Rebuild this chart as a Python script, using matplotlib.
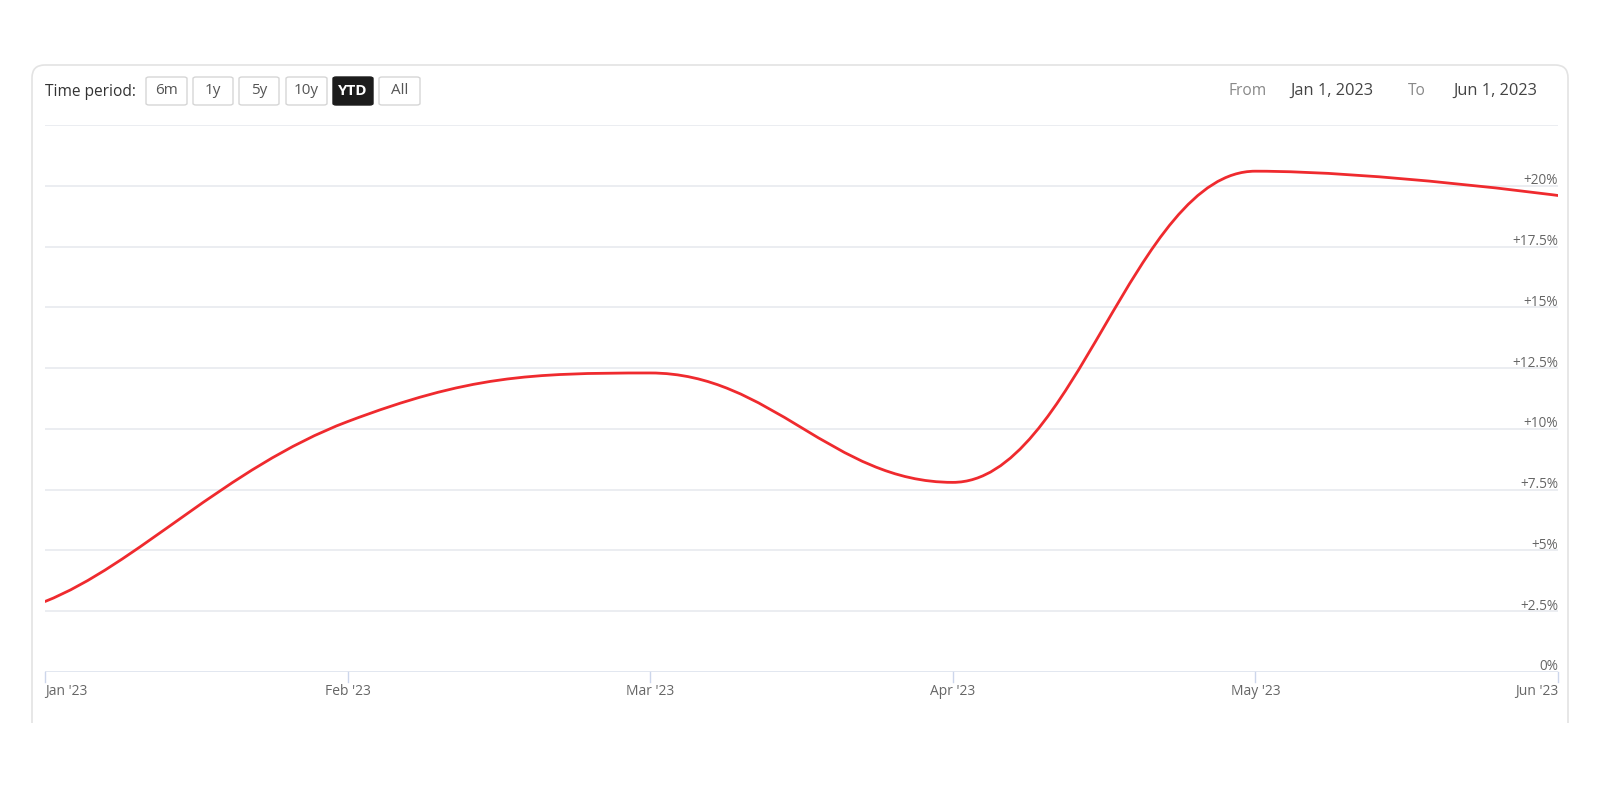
import matplotlib
matplotlib.use("Agg")
import matplotlib.pyplot as plt
from matplotlib.path import Path
from matplotlib.patches import PathPatch, FancyBboxPatch, Rectangle

plt.rcParams['font.family'] = ['Open Sans', 'DejaVu Sans']

# data (YTD return in %)
months = ["Jan '23", "Feb '23", "Mar '23", "Apr '23", "May '23", "Jun '23"]
returns = [2.9, 10.3, 12.3, 7.8, 20.6, 19.6]
y_ticks = [0, 2.5, 5, 7.5, 10, 12.5, 15, 17.5, 20, 22.5]
periods = ["6m", "1y", "5y", "10y", "YTD", "All"]
active_period = "YTD"
date_from = "Jan 1, 2023"
date_to = "Jun 1, 2023"

W, H = 1600, 800


def fx(x):
    return x / W


def fy(y):
    return 1 - y / H


def spline_path(xs, ys, smoothing=1.5):
    # highcharts style spline: bezier control points per point
    denom = smoothing + 1
    n = len(xs)
    left = [None] * n
    right = [None] * n
    for i in range(1, n - 1):
        x, y = xs[i], ys[i]
        lx, ly = xs[i - 1], ys[i - 1]
        nx, ny = xs[i + 1], ys[i + 1]
        lcx = (smoothing * x + lx) / denom
        lcy = (smoothing * y + ly) / denom
        rcx = (smoothing * x + nx) / denom
        rcy = (smoothing * y + ny) / denom
        corr = 0
        if rcx != lcx:
            corr = (rcy - lcy) * (rcx - x) / (rcx - lcx) + y - rcy
        lcy += corr
        rcy += corr
        if lcy > ly and lcy > y:
            lcy = max(ly, y)
            rcy = 2 * y - lcy
        elif lcy < ly and lcy < y:
            lcy = min(ly, y)
            rcy = 2 * y - lcy
        if rcy > ny and rcy > y:
            rcy = max(ny, y)
            lcy = 2 * y - rcy
        elif rcy < ny and rcy < y:
            rcy = min(ny, y)
            lcy = 2 * y - rcy
        left[i] = (lcx, lcy)
        right[i] = (rcx, rcy)
    # ease out of the first point a bit
    right[0] = (xs[0] + 0.3 * (xs[1] - xs[0]), ys[0] + 0.2 * (ys[1] - ys[0]))
    verts = [(xs[0], ys[0])]
    codes = [Path.MOVETO]
    for i in range(1, n):
        c1 = right[i - 1] or (xs[i - 1], ys[i - 1])
        c2 = left[i] or (xs[i], ys[i])
        verts += [c1, c2, (xs[i], ys[i])]
        codes += [Path.CURVE4] * 3
    return Path(verts, codes)


fig = plt.figure(figsize=(16, 8), dpi=100)
fig.patch.set_facecolor('white')

# card outline, open at the bottom
card = FancyBboxPatch((fx(32), fy(900)), fx(1568) - fx(32), fy(65) - fy(900),
                      boxstyle="round,pad=0,rounding_size=0.008",
                      transform=fig.transFigure, facecolor='none',
                      edgecolor='#e3e3e3', lw=1.2, mutation_aspect=2)
clip = Rectangle((0, fy(723)), 1, 1, transform=fig.transFigure)
card.set_clip_path(clip)
fig.patches.append(card)

ax = fig.add_axes([fx(45), fy(672), fx(1558) - fx(45), fy(125) - fy(672)])
x = list(range(len(months)))
ax.set_xlim(0, len(months) - 1)
ax.set_ylim(0, 22.5)
for s in ax.spines.values():
    s.set_visible(False)
ax.set_yticks([])
ax.set_xticks([])

for t in y_ticks:
    ax.axhline(t, color='#e8eaef' if t > 0 else '#dde3ee', lw=1.2, zorder=1)
    if 0 < t < 22.5:
        lab = '+{:g}%'.format(t)
    elif t == 0:
        lab = '0%'
    else:
        continue
    ax.text(1.0, t - 0.1, lab, transform=ax.get_yaxis_transform(), ha='right',
            va='bottom', fontsize=9.8, color='#666666')

# month ticks below the axis line
for i, m in enumerate(months):
    ax.plot([i, i], [0, -0.4], color='#ccd6eb', lw=1, clip_on=False)
    ha = 'left' if i == 0 else ('right' if i == len(months) - 1 else 'center')
    ax.text(i, -0.5, m, ha=ha, va='top', fontsize=10, color='#666666')

ax.add_patch(PathPatch(spline_path(x, returns), fill=False,
                       edgecolor='#ef2a2e', lw=2.0, zorder=3,
                       capstyle='round'))

# header: time period buttons
fig.text(fx(45), fy(92), "Time period:", ha='left', va='center',
         fontsize=11.2, color='#333333')
bx = [146, 193, 239, 286, 333, 379]
bw = [41, 40, 40, 41, 40, 41]
for p, x0, w in zip(periods, bx, bw):
    on = p == active_period
    b = FancyBboxPatch((fx(x0), fy(105)), fx(w), fy(77) - fy(105),
                       boxstyle="round,pad=0,rounding_size=0.002",
                       transform=fig.transFigure,
                       facecolor='#1c1c1c' if on else 'white',
                       edgecolor='#1c1c1c' if on else '#d6d6d6', lw=1)
    fig.patches.append(b)
    fig.text(fx(x0 + w / 2), fy(91), p, ha='center', va='center',
             fontsize=11, color='white' if on else '#555555',
             fontweight='bold' if on else 'normal')

fig.text(fx(1228), fy(91), "From", ha='left', va='center', fontsize=11.2,
         color='#888888')
fig.text(fx(1290), fy(91), date_from, ha='left', va='center', fontsize=11.8,
         color='#444444')
fig.text(fx(1408), fy(91), "To", ha='left', va='center', fontsize=11.2,
         color='#888888')
fig.text(fx(1537), fy(91), date_to, ha='right', va='center', fontsize=11.8,
         color='#444444')

fig.savefig('out.png', dpi=100, facecolor='white')
